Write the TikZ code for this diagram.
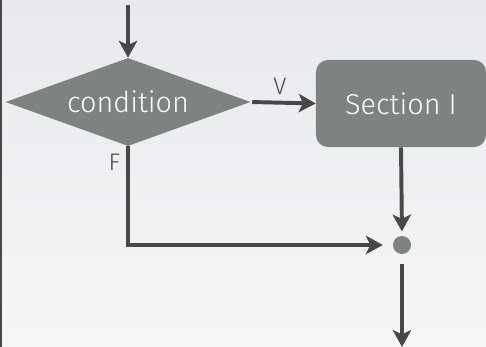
\documentclass[tikz,border=0pt]{standalone}
\usepackage{fontspec}
\setmainfont{Fira Sans Light}
\usepackage{tikz}
\usetikzlibrary{positioning, arrows.meta, shapes.geometric, calc}

\definecolor{boxgray}{RGB}{125,131,128}
\definecolor{linegray}{RGB}{72,72,72}
\definecolor{bgtop}{RGB}{231,233,236}
\definecolor{bgbottom}{RGB}{246,246,248}

\tikzset{
    flow/.style={draw=linegray, line width=2.8pt, -{Stealth[length=12pt, width=13pt, inset=3pt]}},
    cond/.style={diamond, fill=boxgray, text=white, inner sep=0pt, aspect=2.78,
        minimum width=6.125cm, minimum height=2.2cm, font=\fontsize{20.5}{24}\selectfont},
    sectionbox/.style={rectangle, rounded corners=8.5pt, fill=boxgray, text=white,
        minimum width=4.25cm, minimum height=2.175cm, font=\fontsize{20.5}{24}\selectfont},
    joint/.style={circle, fill=boxgray, inner sep=0pt, minimum size=12.8pt},
    branch/.style={text=linegray, font=\fontsize{17}{20}\selectfont}
}

\begin{document}
\begin{tikzpicture}[x=0.025cm, y=-0.025cm]
    % background and left border
    \shade[top color=bgtop, bottom color=bgbottom] (0,0) rectangle (486,347);
    \useasboundingbox (0,0) rectangle (486,347);
    \draw[linegray, line width=1.4pt] (1,0) -- (1,347);

    \coordinate (start) at (128,5);
    \coordinate (finish) at (402,347);

    \node[cond] (test) at (128,102) {condition};
    \node[sectionbox] (sec) at (401,103.5) {Section I};
    \node[joint] (merge) at (402,245) {};

    % connectors
    \draw[flow] (start) -- (test.north);
    \draw[flow, shorten <=1pt] (test.east) -- node[branch, above=1pt, pos=0.45] {V} (sec.west);
    \draw[flow, shorten >=3pt] (sec.south) -- (merge.north);
    \draw[flow, shorten >=7pt] (test.south) |- (merge.west);
    \draw[flow, shorten <=7pt] (merge.south) -- (finish);

    \node[branch, left=2pt] (flabel) at ($(test.south)+(0,16)$) {F};
\end{tikzpicture}
\end{document}
